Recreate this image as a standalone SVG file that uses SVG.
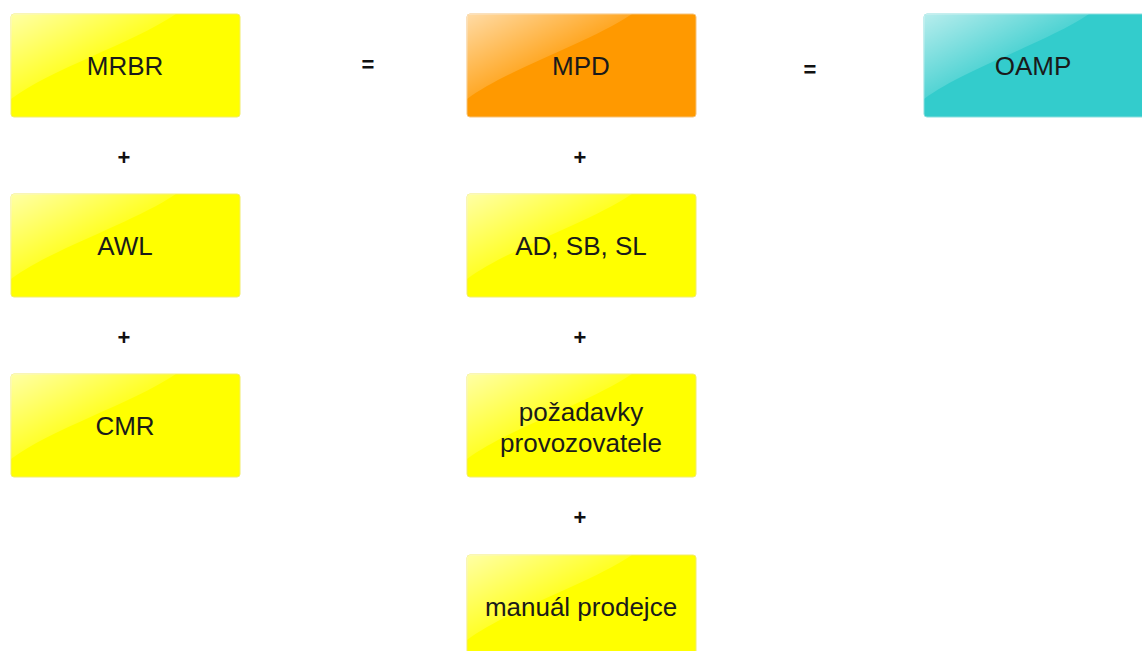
<svg xmlns="http://www.w3.org/2000/svg" width="1142" height="651" viewBox="0 0 1142 651">
<style>
.box{stroke-width:1}
.y{fill:#ffff00;stroke:#f2ec6a}
.o{fill:#ff9900;stroke:#f5c27a}
.c{fill:#33cccc;stroke:#8adede}
.t{font-family:"Liberation Sans",Arial,sans-serif;font-size:26px;fill:#1a1a1a;text-anchor:middle;dominant-baseline:central}
.op{font-family:"Liberation Sans",Arial,sans-serif;font-size:22px;font-weight:bold;fill:#111;text-anchor:middle;dominant-baseline:central}
.gloss{fill:url(#g)}
</style>
<defs>
<linearGradient id="g" x1="0" y1="0" x2="1" y2="1">
<stop offset="0" stop-color="#fff" stop-opacity="0.65"/>
<stop offset="0.5" stop-color="#fff" stop-opacity="0.15"/>
<stop offset="1" stop-color="#fff" stop-opacity="0"/>
</linearGradient>
<path id="hl" d="M3,0 H165 C120,30 40,55 0,85 V3 Q0,0 3,0 Z"/>
</defs>
<rect width="1142" height="651" fill="#fff"/>
<g id="mrbr"><rect class="box y" x="11" y="14" width="229" height="103" rx="3"/><use href="#hl" x="11" y="14" class="gloss"/><text class="t" x="125" y="66">MRBR</text></g>
<g id="awl"><rect class="box y" x="11" y="194" width="229" height="103" rx="3"/><use href="#hl" x="11" y="194" class="gloss"/><text class="t" x="125" y="246">AWL</text></g>
<g id="cmr"><rect class="box y" x="11" y="374" width="229" height="103" rx="3"/><use href="#hl" x="11" y="374" class="gloss"/><text class="t" x="125" y="426">CMR</text></g>
<g id="mpd"><rect class="box o" x="467" y="14" width="229" height="103" rx="3"/><use href="#hl" x="467" y="14" class="gloss"/><text class="t" x="581" y="66">MPD</text></g>
<g id="adsbsl"><rect class="box y" x="467" y="194" width="229" height="103" rx="3"/><use href="#hl" x="467" y="194" class="gloss"/><text class="t" x="581" y="246">AD, SB, SL</text></g>
<g id="pozadavky"><rect class="box y" x="467" y="374" width="229" height="103" rx="3"/><use href="#hl" x="467" y="374" class="gloss"/><text class="t" x="581" y="412">požadavky</text><text class="t" x="581" y="443">provozovatele</text></g>
<g id="manual"><rect class="box y" x="467" y="555" width="229" height="103" rx="3"/><use href="#hl" x="467" y="555" class="gloss"/><text class="t" x="581" y="607">manuál prodejce</text></g>
<g id="oamp"><rect class="box c" x="924" y="14" width="229" height="103" rx="3"/><use href="#hl" x="924" y="14" class="gloss"/><text class="t" x="1033" y="66">OAMP</text></g>
<g id="operators">
<text class="op" x="124" y="157">+</text>
<text class="op" x="124" y="337">+</text>
<text class="op" x="580" y="157">+</text>
<text class="op" x="580" y="337">+</text>
<text class="op" x="580" y="517">+</text>
<text class="op" x="368" y="64">=</text>
<text class="op" x="810" y="69">=</text>
</g>
</svg>
